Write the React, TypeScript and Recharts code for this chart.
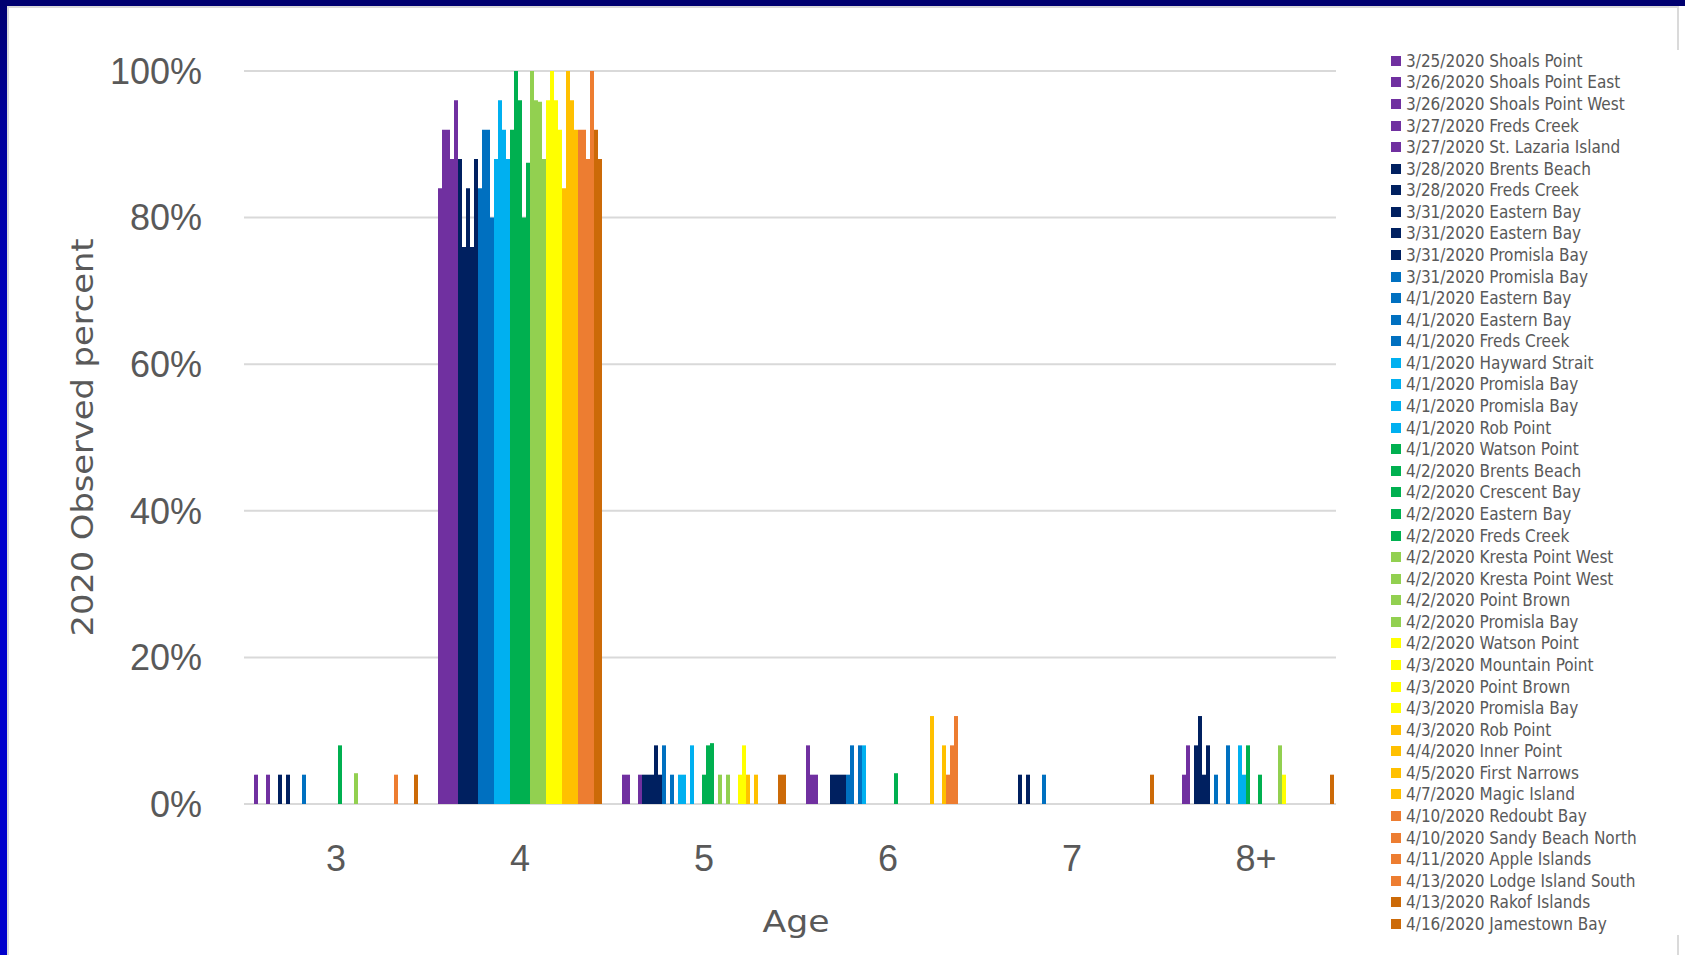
import React from "react"
import { BarChart, Bar, XAxis, YAxis, CartesianGrid, Legend } from "recharts"

const ages = ["3", "4", "5", "6", "7", "8+"]

const seriesNames = [
  "3/25/2020 Shoals Point",
  "3/26/2020 Shoals Point East",
  "3/26/2020 Shoals Point West",
  "3/27/2020 Freds Creek",
  "3/27/2020 St. Lazaria Island",
  "3/28/2020 Brents Beach",
  "3/28/2020 Freds Creek",
  "3/31/2020 Eastern Bay",
  "3/31/2020 Eastern Bay",
  "3/31/2020 Promisla Bay",
  "3/31/2020 Promisla Bay",
  "4/1/2020 Eastern Bay",
  "4/1/2020 Eastern Bay",
  "4/1/2020 Freds Creek",
  "4/1/2020 Hayward Strait",
  "4/1/2020 Promisla Bay",
  "4/1/2020 Promisla Bay",
  "4/1/2020 Rob Point",
  "4/1/2020 Watson Point",
  "4/2/2020 Brents Beach",
  "4/2/2020 Crescent Bay",
  "4/2/2020 Eastern Bay",
  "4/2/2020 Freds Creek",
  "4/2/2020 Kresta Point West",
  "4/2/2020 Kresta Point West",
  "4/2/2020 Point Brown",
  "4/2/2020 Promisla Bay",
  "4/2/2020 Watson Point",
  "4/3/2020 Mountain Point",
  "4/3/2020 Point Brown",
  "4/3/2020 Promisla Bay",
  "4/3/2020 Rob Point",
  "4/4/2020 Inner Point",
  "4/5/2020 First Narrows",
  "4/7/2020 Magic Island",
  "4/10/2020 Redoubt Bay",
  "4/10/2020 Sandy Beach North",
  "4/11/2020 Apple Islands",
  "4/13/2020 Lodge Island South",
  "4/13/2020 Rakof Islands",
  "4/16/2020 Jamestown Bay",
]

const PURPLE = "#7030A0"
const NAVY = "#002060"
const BLUE = "#0070C0"
const SKY = "#00B0F0"
const GREEN = "#00B050"
const LIME = "#92D050"
const YELLOW = "#FFFF00"
const GOLD = "#FFC000"
const ORANGE = "#ED7D31"
const RUST = "#CC6A08"

const seriesColors = [
  PURPLE, PURPLE, PURPLE, PURPLE, PURPLE,
  NAVY, NAVY, NAVY, NAVY, NAVY,
  BLUE, BLUE, BLUE, BLUE,
  SKY, SKY, SKY, SKY,
  GREEN, GREEN, GREEN, GREEN, GREEN,
  LIME, LIME, LIME, LIME,
  YELLOW, YELLOW, YELLOW, YELLOW,
  GOLD, GOLD, GOLD, GOLD,
  ORANGE, ORANGE, ORANGE, ORANGE,
  RUST, RUST,
]

// percent observed per series, one array per age class (same order as seriesNames)
const age3 = [4, 0, 0, 4, 0, 0, 4, 0, 4, 0, 0, 0, 4, 0, 0, 0, 0, 0, 0, 0, 0, 8, 0, 0, 0, 4.2, 0, 0, 0, 0, 0, 0, 0, 0, 0, 4, 0, 0, 0, 0, 4]
const age4 = [84, 92, 92, 88, 96, 88, 76, 84, 76, 88, 84, 92, 92, 80, 88, 96, 92, 88, 92, 100, 96, 80, 87.5, 100, 96, 95.8, 88, 96, 100, 96, 92, 84, 100, 96, 92, 92, 92, 88, 100, 92, 88]
const age5 = [4, 4, 0, 0, 4, 4, 4, 4, 8, 4, 8, 0, 4, 0, 4, 4, 0, 8, 0, 0, 4, 8, 8.3, 0, 4, 0, 4, 0, 0, 4, 8, 4, 0, 4, 0, 0, 0, 0, 0, 4, 4]
const age6 = [8, 4, 4, 0, 0, 0, 4, 4, 4, 4, 4, 8, 0, 8, 8, 0, 0, 0, 0, 0, 0, 0, 4.2, 0, 0, 0, 0, 0, 0, 0, 0, 12, 0, 0, 8, 4, 8, 12, 0, 0, 0]
const age7 = [0, 0, 0, 0, 0, 0, 0, 4, 0, 4, 0, 0, 0, 4, 0, 0, 0, 0, 0, 0, 0, 0, 0, 0, 0, 0, 0, 0, 0, 0, 0, 0, 0, 0, 0, 0, 0, 0, 0, 0, 4]
const age8plus = [0, 0, 4, 8, 0, 8, 12, 4, 8, 0, 4, 0, 0, 8, 0, 0, 8, 4, 8, 0, 0, 4, 0, 0, 0, 0, 8, 4, 0, 0, 0, 0, 0, 0, 0, 0, 0, 0, 0, 4, 0]

const yTicks = [0, 20, 40, 60, 80, 100]

const byAge = [age3, age4, age5, age6, age7, age8plus]
const data = ages.map((age, a) => {
  const row: Record<string, number | string> = { age }
  seriesNames.forEach((_, i) => {
    row[`s${i}`] = byAge[a][i]
  })
  return row
})

const GRAY_TEXT = "#595959"

function YTitle(props: any) {
  const vb = props.viewBox || { x: 0, y: 71, width: 244, height: 733 }
  const cx = 82
  const cy = vb.y + vb.height / 2
  return (
    <text
      x={cx}
      y={cy}
      transform={`rotate(-90 ${cx} ${cy})`}
      textAnchor="middle"
      dominantBaseline="central"
      fill={GRAY_TEXT}
      fontSize={30}
      fontFamily="DejaVu Sans Condensed"
      textLength={398}
      lengthAdjust="spacingAndGlyphs"
    >
      2020 Observed percent
    </text>
  )
}

function XTitle(props: any) {
  const vb = props.viewBox || { x: 244, y: 804, width: 1104, height: 151 }
  const cx = vb.x + vb.width / 2
  return (
    <text
      x={cx}
      y={vb.y + 117}
      textAnchor="middle"
      dominantBaseline="central"
      fill={GRAY_TEXT}
      fontSize={30}
      fontFamily="DejaVu Sans Condensed"
      textLength={67}
      lengthAdjust="spacingAndGlyphs"
    >
      Age
    </text>
  )
}

function LegendList() {
  return (
    <div style={{ background: "#fff", paddingTop: 0 }}>
      {seriesNames.map((name, i) => (
        <div
          key={i}
          style={{
            display: "flex",
            alignItems: "center",
            height: 21.59,
            fontSize: 17,
            fontFamily: "DejaVu Sans Condensed",
            color: GRAY_TEXT,
            whiteSpace: "nowrap",
          }}
        >
          <span
            style={{
              display: "inline-block",
              width: 10,
              height: 10,
              marginLeft: 55,
              marginRight: 5,
              background: seriesColors[i],
            }}
          />
          {name}
        </div>
      ))}
    </div>
  )
}

export default function App() {
  return (
    <div style={{ position: "relative", width: 1685, height: 955, overflow: "hidden", background: "#fff" }}>
      <style>{"body{margin:0}"}</style>
      <div
        style={{
          position: "absolute",
          left: 0,
          top: 0,
          width: 7,
          height: 955,
          background: "linear-gradient(to bottom, #000070 0px, #00009A 120px, #0000CC 420px, #0000CC 100%)",
        }}
      />
      <div style={{ position: "absolute", left: 0, top: 0, width: 1685, height: 6, background: "#000070" }} />
      <div
        style={{
          position: "absolute",
          left: 7,
          top: 6,
          width: 1672,
          height: 960,
          boxSizing: "border-box",
          borderLeft: "2px solid #DADADA",
          borderTop: "2px solid #DADADA",
          borderRight: "2px solid #DADADA",
        }}
      />
      <div style={{ position: "absolute", left: 0, top: 0 }}>
        <BarChart
          width={1685}
          height={955}
          data={data}
          margin={{ top: 71, right: 337, bottom: 0, left: 0 }}
          barCategoryGap={10}
          barGap={0}
        >
          <CartesianGrid horizontal vertical={false} stroke="#D9D9D9" strokeWidth={2} />
          <XAxis
            dataKey="age"
            height={151}
            axisLine={false}
            tickLine={false}
            tickSize={0}
            tickMargin={41}
            tick={{ fill: GRAY_TEXT, fontSize: 36, fontFamily: "Liberation Sans" }}
            label={{ content: (p: any) => <XTitle {...p} /> }}
          />
          <YAxis
            width={244}
            domain={[0, 100]}
            ticks={yTicks}
            tickFormatter={(v: number) => `${v}%`}
            axisLine={false}
            tickLine={false}
            tickSize={0}
            tickMargin={42}
            tick={{ fill: GRAY_TEXT, fontSize: 36, fontFamily: "Liberation Sans" }}
            label={{ content: (p: any) => <YTitle {...p} /> }}
          />
          <Legend
            layout="horizontal"
            verticalAlign="middle"
            align="center"
            wrapperStyle={{ left: 1336, top: 50, width: 345, background: "#fff" }}
            content={() => <LegendList />}
          />
          {seriesNames.map((name, i) => (
            <Bar
              key={i}
              dataKey={`s${i}`}
              name={name}
              fill={seriesColors[i]}
              isAnimationActive={false}
            />
          ))}
        </BarChart>
      </div>
    </div>
  )
}
